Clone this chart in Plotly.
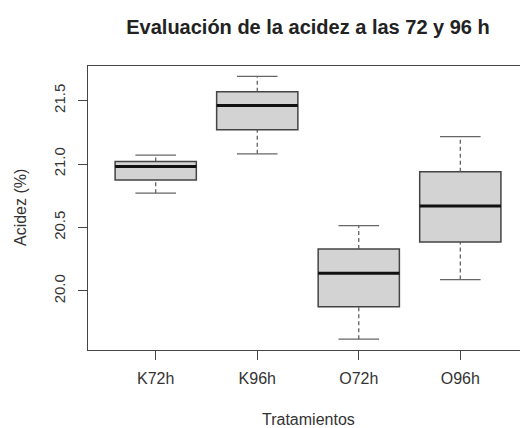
import plotly.graph_objects as go

# Acidity (%) summary per treatment: whisker ends, quartiles and median
tratamientos = ["K72h", "K96h", "O72h", "O96h"]
bigote_inf = [20.77, 21.08, 19.62, 20.09]
q1 = [20.875, 21.27, 19.875, 20.385]
mediana = [20.98, 21.46, 20.14, 20.67]
q3 = [21.02, 21.57, 20.33, 20.94]
bigote_sup = [21.07, 21.69, 20.515, 21.215]

y_ticks = [20.0, 20.5, 21.0, 21.5]
y_tick_text = ["20.0", "20.5", "21.0", "21.5"]

FONT = "Liberation Sans, Arial, sans-serif"
INK = "#333333"
BOX_W = 0.8      # box width in axis units
STAPLE_W = 0.4   # whisker cap width

posiciones = list(range(1, len(tratamientos) + 1))

fig = go.Figure()

# grey boxes (Q1..Q3); whiskers are drawn separately so they can be dashed
for p, a, m, b in zip(posiciones, q1, mediana, q3):
    fig.add_trace(go.Box(
        x=[p], q1=[a], median=[m], q3=[b], lowerfence=[a], upperfence=[b],
        width=BOX_W, whiskerwidth=0,
        fillcolor="#D3D3D3",
        line=dict(color="#444444", width=1.5),
        boxpoints=False, hoverinfo="skip", showlegend=False,
    ))

# dashed whiskers and solid staples
for p, lo, a, b, hi in zip(posiciones, bigote_inf, q1, q3, bigote_sup):
    for y0, y1 in ((lo, a), (b, hi)):
        fig.add_trace(go.Scatter(
            x=[p, p], y=[y0, y1], mode="lines",
            line=dict(color="#555555", width=1.2, dash="4px,3px"),
            hoverinfo="skip", showlegend=False,
        ))
    for yv in (lo, hi):
        fig.add_trace(go.Scatter(
            x=[p - STAPLE_W / 2, p + STAPLE_W / 2], y=[yv, yv], mode="lines",
            line=dict(color="#666666", width=1.3),
            hoverinfo="skip", showlegend=False,
        ))

# heavy median bars
for p, m in zip(posiciones, mediana):
    fig.add_trace(go.Scatter(
        x=[p - BOX_W / 2, p + BOX_W / 2], y=[m, m], mode="lines",
        line=dict(color="#111111", width=3),
        hoverinfo="skip", showlegend=False,
    ))

fig.update_layout(
    width=520, height=428,
    margin=dict(l=88, r=0, t=66, b=78),
    paper_bgcolor="white", plot_bgcolor="white",
    font=dict(family=FONT, size=16, color=INK),
    title=dict(
        text="Evaluación de la acidez a las 72 y 96 h",
        font=dict(family=FONT, size=20, color="#222222", weight="bold"),
        x=308 / 520, xanchor="center", xref="container",
        y=1 - 27 / 428, yanchor="middle", yref="container",
    ),
    xaxis=dict(
        range=[0.333, 4.588],
        tickmode="array", tickvals=posiciones, ticktext=tratamientos,
        ticks="outside", ticklen=9, tickwidth=1, tickcolor="#444444",
        ticklabelstandoff=5,
        showline=True, linecolor="#444444", linewidth=1, mirror=True,
        showgrid=False, zeroline=False,
        tickfont=dict(family=FONT, size=16, color=INK),
    ),
    yaxis=dict(
        range=[19.535, 21.772],
        tickmode="array", tickvals=y_ticks, ticktext=y_tick_text,
        tickangle=-90,
        ticks="outside", ticklen=9, tickwidth=1, tickcolor="#444444",
        ticklabelstandoff=7,
        showline=True, linecolor="#444444", linewidth=1, mirror=False,
        showgrid=False, zeroline=False,
        tickfont=dict(family=FONT, size=15, color=INK),
    ),
    annotations=[
        dict(text="Tratamientos", xref="x", x=2.5, yref="paper",
             y=-(419 - 350) / 284, xanchor="center", yanchor="middle",
             showarrow=False, font=dict(family=FONT, size=16, color=INK)),
        dict(text="Acidez (%)", xref="paper", x=(20 - 88) / 432, yref="paper",
             y=0.5, xanchor="center", yanchor="middle", textangle=-90,
             showarrow=False, font=dict(family=FONT, size=16, color=INK)),
    ],
)

fig.write_html("out.html")
